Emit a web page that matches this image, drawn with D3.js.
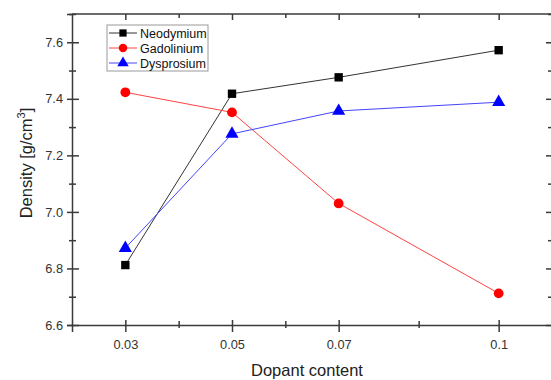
<!DOCTYPE html>
<html>
<head>
<meta charset="utf-8">
<script src="https://cdn.jsdelivr.net/npm/d3@7"></script>
<style>
body { margin: 0; background: white; }
svg { font-family: "Liberation Sans", Arial, sans-serif; }
</style>
</head>
<body>
<script>
// data
var dopant = [0.03, 0.05, 0.07, 0.1];
var neodymium = [6.812, 7.418, 7.476, 7.572];
var gadolinium = [7.423, 7.352, 7.03, 6.712];
var dysprosium = [6.872, 7.276, 7.357, 7.388];
var seriesNames = ["Neodymium", "Gadolinium", "Dysprosium"];
var xMajor = [0.03, 0.05, 0.07, 0.1];
var xMinor = [0.04, 0.06, 0.085];
var yMajor = [6.6, 6.8, 7.0, 7.2, 7.4, 7.6];
var yMinor = [6.7, 6.9, 7.1, 7.3, 7.5, 7.7];

var width = 551, height = 380;
var axisCol = "#3a3a3a";

var svg = d3.select("body").append("svg")
    .attr("width", width).attr("height", height);

var x = d3.scaleLinear().domain([0.02, 0.11]).range([72, 552]);
var y = d3.scaleLinear().domain([6.6, 7.7]).range([325, 14]);

// frame lines
svg.append("line").attr("x1", 72).attr("x2", 552).attr("y1", 14).attr("y2", 14)
    .attr("stroke", axisCol).attr("stroke-width", 1.5);
svg.append("line").attr("x1", 552).attr("x2", 552).attr("y1", 14).attr("y2", 325)
    .attr("stroke", axisCol).attr("stroke-width", 1.5);

// bottom axis
var gx = svg.append("g").attr("transform", "translate(0,325)")
    .call(d3.axisBottom(x).tickValues(xMajor).tickFormat(function(d){ return d3.format("")(d); }).tickSize(7).tickPadding(8));
gx.selectAll(".tick line").attr("y1", -5);
var gx2 = svg.append("g").attr("transform", "translate(0,325)")
    .call(d3.axisBottom(x).tickValues(xMinor).tickFormat("").tickSize(3));
gx2.selectAll(".tick line").attr("y1", -4);
gx2.select(".domain").remove();

// left axis
var gy = svg.append("g").attr("transform", "translate(72,0)")
    .call(d3.axisLeft(y).tickValues(yMajor).tickFormat(d3.format(".1f")).tickSize(5).tickPadding(4));
gy.selectAll(".tick line").attr("x1", 7);
var gy2 = svg.append("g").attr("transform", "translate(72,0)")
    .call(d3.axisLeft(y).tickValues(yMinor).tickFormat("").tickSize(3));
gy2.selectAll(".tick line").attr("x1", 4);
gy2.select(".domain").remove();

// top axis, inward ticks
var gt = svg.append("g").attr("transform", "translate(0,14)")
    .call(d3.axisTop(x).tickValues(xMajor).tickFormat("").tickSize(-6));
gt.select(".domain").remove();
var gt2 = svg.append("g").attr("transform", "translate(0,14)")
    .call(d3.axisTop(x).tickValues(xMinor).tickFormat("").tickSize(-4));
gt2.select(".domain").remove();

// right axis, inward ticks
var gr = svg.append("g").attr("transform", "translate(552,0)")
    .call(d3.axisRight(y).tickValues(yMajor).tickFormat("").tickSize(-6));
gr.select(".domain").remove();
var gr2 = svg.append("g").attr("transform", "translate(552,0)")
    .call(d3.axisRight(y).tickValues(yMinor).tickFormat("").tickSize(-4));
gr2.select(".domain").remove();

svg.selectAll(".domain").attr("stroke", axisCol).attr("stroke-width", 1.5);
svg.selectAll(".tick line").attr("stroke", axisCol).attr("stroke-width", 1.5);
svg.selectAll(".tick text").attr("fill", "#333").attr("font-size", 12.8)
    .attr("font-family", "Liberation Sans, Arial, sans-serif");

// axis titles
svg.append("text").attr("x", 307).attr("y", 376).attr("text-anchor", "middle")
    .attr("font-size", 16.5).attr("fill", "#222").text("Dopant content");
var yl = svg.append("text").attr("transform", "translate(32,163) rotate(-90)")
    .attr("text-anchor", "middle").attr("font-size", 16.5).attr("fill", "#222");
yl.append("tspan").text("Density [g/cm");
yl.append("tspan").attr("dy", -7).attr("font-size", 11).text("3");
yl.append("tspan").attr("dy", 7).text("]");

// series
var series = [
  {name: seriesNames[0], values: neodymium, line: "#333", fill: "#000", shape: d3.symbolSquare, size: 70},
  {name: seriesNames[1], values: gadolinium, line: "#f44", fill: "#f00", shape: d3.symbolCircle, size: 75},
  {name: seriesNames[2], values: dysprosium, line: "#44f", fill: "#00f", shape: d3.symbolTriangle, size: 75}
];

var line = d3.line().x(function(d){ return x(d[0]); }).y(function(d){ return y(d[1]); });

series.forEach(function(s){
  var pts = dopant.map(function(d, i){ return [d, s.values[i]]; });
  svg.append("path").datum(pts).attr("d", line)
      .attr("fill", "none").attr("stroke", s.line).attr("stroke-width", 1);
  svg.selectAll(null).data(pts).enter().append("path")
      .attr("d", d3.symbol().type(s.shape).size(s.size))
      .attr("transform", function(d){ return "translate(" + x(d[0]) + "," + y(d[1]) + ")"; })
      .attr("fill", s.fill);
});

// legend
var lg = svg.append("g").attr("transform", "translate(107,25)");
lg.append("rect").attr("width", 101).attr("height", 46)
    .attr("fill", "white").attr("stroke", "#999").attr("stroke-width", 1);
series.forEach(function(s, i){
  var ry = 8 + i * 15;
  lg.append("line").attr("x1", 2).attr("x2", 30).attr("y1", ry).attr("y2", ry)
      .attr("stroke", s.line).attr("stroke-width", 1);
  lg.append("path").attr("d", d3.symbol().type(s.shape).size(s.size * 0.75))
      .attr("transform", "translate(16," + ry + ")").attr("fill", s.fill);
  lg.append("text").attr("x", 33).attr("y", ry + 4.5).attr("font-size", 12.5)
      .attr("fill", "#111").text(s.name);
});
</script>
</body>
</html>
